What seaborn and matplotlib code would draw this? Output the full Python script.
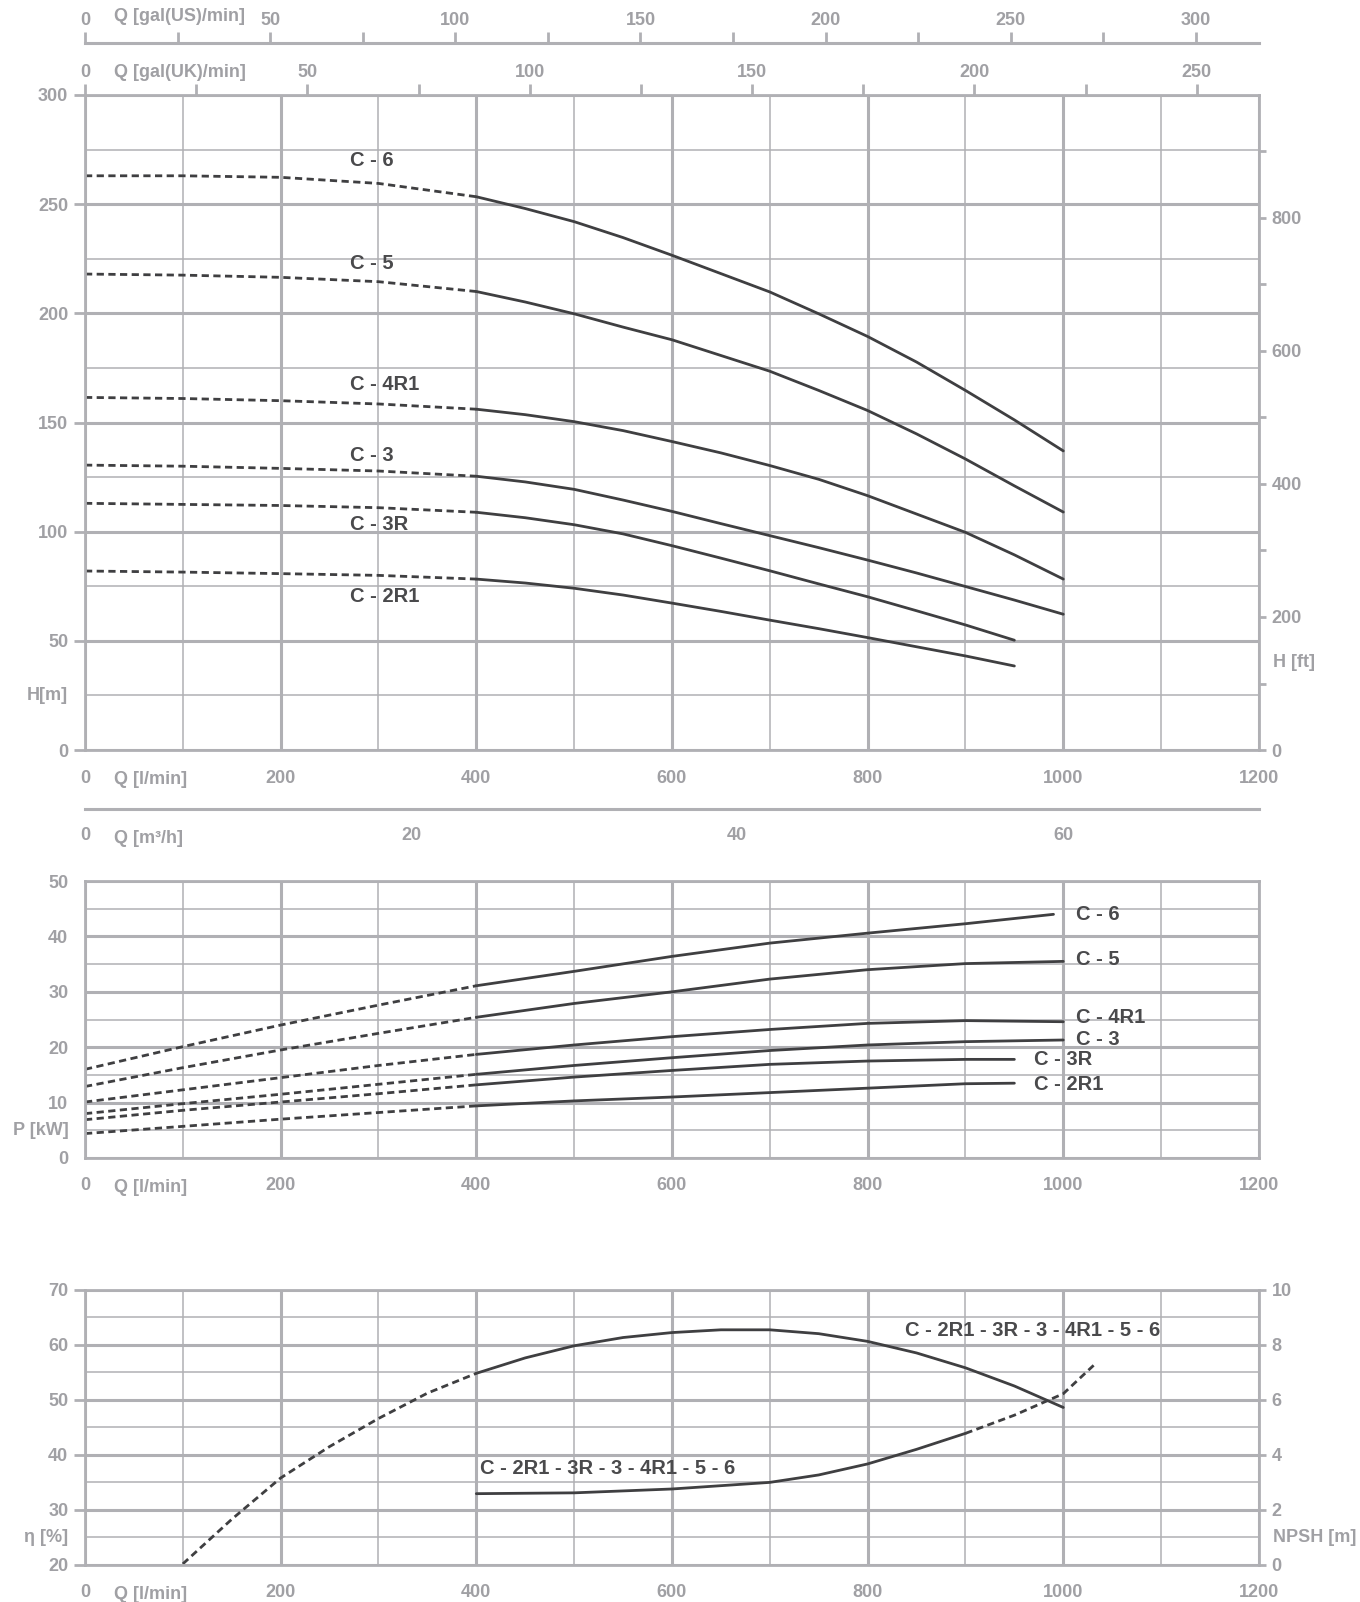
import pandas as pd
import matplotlib.pyplot as plt
import seaborn as sns

# flow points [l/min]
q_h_long = [0, 100, 200, 300, 400, 450, 500, 550, 600, 650, 700, 750, 800, 850, 900, 950, 1000]
q_h_short = [0, 100, 200, 300, 400, 450, 500, 550, 600, 650, 700, 750, 800, 850, 900, 950]
q_p_long = [0, 100, 200, 300, 400, 500, 600, 700, 800, 900, 1000]
q_p_short = [0, 100, 200, 300, 400, 500, 600, 700, 800, 900, 950]
q_p6 = [0, 100, 200, 300, 400, 500, 600, 700, 800, 900, 990]

models = ['C - 6', 'C - 5', 'C - 4R1', 'C - 3', 'C - 3R', 'C - 2R1']

# head [m]
h_c6 = [263, 263, 262.3, 259.5, 253.4, 248, 242, 234.7, 226.6, 218.2, 209.8, 199.8, 189.4, 177.7, 164.7, 151.2, 137]
h_c5 = [218, 217.5, 216.5, 214.5, 210, 205.2, 199.8, 193.7, 187.9, 180.7, 173.5, 164.7, 155.5, 144.8, 133.3, 121, 109]
h_c4r1 = [161.5, 161, 160, 158.5, 156.1, 153.6, 150.4, 146.3, 141.3, 136.1, 130.3, 124, 116.5, 108.1, 99.7, 89.4, 78.3]
h_c3 = [130.5, 130, 129, 127.8, 125.4, 122.8, 119.4, 114.5, 109.3, 103.7, 98.2, 92.7, 87, 81.1, 74.9, 68.7, 62.2]
h_c3r = [113, 112.5, 112, 111, 108.9, 106.4, 103.2, 99, 93.6, 87.9, 82.1, 76.1, 70.2, 63.8, 57.3, 50.3]
h_c2r1 = [82, 81.5, 80.8, 80, 78.3, 76.5, 74.1, 71, 67.3, 63.5, 59.5, 55.6, 51.5, 47.3, 43.1, 38.5]

# power [kW]
p_c6 = [16, 20.1, 24, 27.6, 31.1, 33.7, 36.4, 38.8, 40.6, 42.3, 44]
p_c5 = [12.9, 16.3, 19.5, 22.5, 25.4, 27.9, 30, 32.3, 34, 35.1, 35.5]
p_c4r1 = [10.1, 12.3, 14.5, 16.7, 18.7, 20.4, 21.9, 23.2, 24.3, 24.8, 24.6]
p_c3 = [8, 9.8, 11.5, 13.3, 15.1, 16.7, 18.1, 19.4, 20.4, 21, 21.3]
p_c3r = [6.9, 8.6, 10.1, 11.6, 13.2, 14.6, 15.8, 16.9, 17.5, 17.8, 17.8]
p_c2r1 = [4.4, 5.7, 7, 8.2, 9.4, 10.3, 11, 11.8, 12.6, 13.4, 13.5]

# efficiency [%] and NPSH [m]
q_eta = [100, 150, 200, 250, 300, 350, 400, 450, 500, 550, 600, 650, 700, 750, 800, 850, 900, 950, 1000]
eta = [20.2, 28.3, 35.8, 41.5, 46.6, 51.2, 54.8, 57.6, 59.8, 61.3, 62.2, 62.7, 62.7, 62.0, 60.6, 58.5, 55.8, 52.5, 48.6]
q_npsh = [400, 500, 600, 700, 750, 800, 850, 900, 950, 1000, 1031]
npsh = [2.59, 2.62, 2.76, 3.0, 3.27, 3.67, 4.2, 4.78, 5.44, 6.22, 7.25]

# label positions
h_label_y = [270, 223, 167.5, 135, 103.4, 70.2]
p_label_xy = [(1013, 43.9), (1013, 35.8), (1013, 25.3), (1013, 21.4), (970, 17.7), (970, 13.3)]

GRID = '#b0b0b4'
TXT = '#a0a0a4'
LINE = '#3f3f41'
LAB = '#4a4a4c'
DASH = (0, (2.6, 1.6))
FS = 13

sns.set_style('white')
plt.rcParams['font.family'] = ['Liberation Sans', 'DejaVu Sans']
plt.rcParams['font.weight'] = 'bold'

fig = plt.figure(figsize=(13.6, 16.02), dpi=100)
L, W = 0.0625, 0.8632
axH = fig.add_axes([L, 0.5318, W, 0.4089])
axP = fig.add_axes([L, 0.2772, W, 0.1728])
axE = fig.add_axes([L, 0.0231, W, 0.1719])


def setup_panel(ax, ylo, yhi, ystep):
    ax.set_xlim(0, 1200)
    ax.set_ylim(ylo, yhi)
    ax.set_xticks(range(0, 1201, 200))
    ax.set_xticks(range(100, 1200, 200), minor=True)
    ax.set_yticks(range(ylo, yhi + 1, ystep))
    ax.set_yticks([v + ystep / 2 for v in range(ylo, yhi, ystep)], minor=True)
    ax.grid(which='major', color=GRID, lw=2.2)
    ax.grid(which='minor', color=GRID, lw=1.1)
    ax.set_axisbelow(True)
    ax.tick_params(axis='x', which='both', direction='out', length=10, width=2,
                   color=GRID, labelcolor=TXT, labelsize=FS, pad=4)
    ax.tick_params(axis='y', which='major', direction='out', length=8, width=2,
                   color=GRID, labelcolor=TXT, labelsize=FS, pad=4)
    ax.tick_params(axis='y', which='minor', length=0)
    for s in ax.spines.values():
        s.set_color(GRID)
        s.set_linewidth(2)
    ax.set_xlabel('')
    ax.set_ylabel('')


def side_text(ax, text, y):
    ax.annotate(text, xy=(0, y), xycoords=('axes fraction', 'data'), xytext=(-12, 0),
                textcoords='offset points', ha='right', va='center', color=TXT, fontsize=FS)


def right_text(ax, text, y):
    ax.annotate(text, xy=(1, y), xycoords=('axes fraction', 'data'), xytext=(10, 0),
                textcoords='offset points', ha='left', va='center', color=TXT, fontsize=FS)


def right_axis(ax):
    ax.tick_params(axis='y', which='both', direction='out', length=5, width=2,
                   color=GRID, labelcolor=TXT, labelsize=FS, pad=4)
    ax.grid(False)
    ax.set_ylabel('')
    for s in ax.spines.values():
        s.set_visible(False)


def q_text(ax):
    ax.annotate('Q [l/min]', xy=(30, 0), xycoords=('data', 'axes fraction'), xytext=(0, -21),
                textcoords='offset points', ha='left', va='center', color=TXT, fontsize=FS)


def curve(ax, q, v, split, dashed_before=True):
    df = pd.DataFrame({'q': q, 'v': v})
    a = df[df.q <= split]
    b = df[df.q >= split]
    sns.lineplot(data=a, x='q', y='v', ax=ax, color=LINE, lw=2,
                 linestyle=DASH if dashed_before else '-', sort=False)
    sns.lineplot(data=b, x='q', y='v', ax=ax, color=LINE, lw=2,
                 linestyle='-' if dashed_before else DASH, sort=False)


def curve_label(ax, x, y, text):
    ax.text(x, y, text, color=LAB, fontsize=14.5, fontweight='bold',
            ha='left', va='center')


# ---------------- head panel
h_all = [h_c6, h_c5, h_c4r1, h_c3, h_c3r, h_c2r1]
for i, h in enumerate(h_all):
    q = q_h_long if i < 4 else q_h_short
    curve(axH, q, h, 400)
    curve_label(axH, 271, h_label_y[i], models[i])
setup_panel(axH, 0, 300, 50)
side_text(axH, 'H[m]', 25)
q_text(axH)

axH2 = axH.twinx()
axH2.set_ylim(0, 300 / 0.3048)
axH2.set_yticks(range(0, 801, 200))
axH2.set_yticks(range(100, 901, 200), minor=True)
right_axis(axH2)
right_text(axH2, 'H [ft]', 40 / 0.3048)

# gal(UK) axis on top spine
sec = axH.secondary_xaxis('top', functions=(lambda x: x / 4.54609, lambda g: g * 4.54609))
sec.set_xticks(range(0, 251, 50))
sec.set_xticks(range(25, 251, 50), minor=True)
sec.tick_params(which='both', direction='out', length=8, width=2, color=GRID,
                labelcolor=TXT, labelsize=FS, pad=2)
sec.spines['top'].set_visible(False)
axH.annotate('Q [gal(UK)/min]', xy=(0.0247, 1), xycoords='axes fraction', xytext=(0, 16),
             textcoords='offset points', ha='left', va='center', color=TXT, fontsize=FS)

# gal(US) axis
axUS = fig.add_axes([L, 0.9732, W, 0.0001])
axUS.set_xlim(0, 1200 / 3.78541)
axUS.set_yticks([])
axUS.set_xticks(range(0, 301, 50))
axUS.set_xticks(range(25, 301, 50), minor=True)
axUS.xaxis.set_ticks_position('top')
axUS.tick_params(which='both', direction='out', length=8, width=2, color=GRID,
                 labelcolor=TXT, labelsize=FS, pad=2)
for k in ['left', 'right', 'bottom']:
    axUS.spines[k].set_visible(False)
axUS.spines['top'].set_color(GRID)
axUS.spines['top'].set_linewidth(2.2)
axUS.patch.set_alpha(0)
axUS.annotate('Q [gal(US)/min]', xy=(0.0247, 1), xycoords='axes fraction', xytext=(0, 19),
              textcoords='offset points', ha='left', va='center', color=TXT, fontsize=FS)

# m3/h axis
axM = fig.add_axes([L, 0.4950, W, 0.0001])
axM.set_xlim(0, 72)
axM.set_yticks([])
axM.set_xticks(range(0, 61, 20))
axM.set_xticks(range(10, 71, 20), minor=True)
axM.tick_params(which='both', direction='out', length=10, width=2, color=GRID,
                labelcolor=TXT, labelsize=FS, pad=3)
for k in ['left', 'right', 'top']:
    axM.spines[k].set_visible(False)
axM.spines['bottom'].set_color(GRID)
axM.spines['bottom'].set_linewidth(2.2)
axM.patch.set_alpha(0)
axM.annotate('Q [m³/h]', xy=(0.0247, 0), xycoords='axes fraction', xytext=(0, -21),
             textcoords='offset points', ha='left', va='center', color=TXT, fontsize=FS)

# ---------------- power panel
p_all = [p_c6, p_c5, p_c4r1, p_c3, p_c3r, p_c2r1]
for i, p in enumerate(p_all):
    q = q_p6 if i == 0 else (q_p_long if i < 4 else q_p_short)
    curve(axP, q, p, 400)
    curve_label(axP, p_label_xy[i][0], p_label_xy[i][1], models[i])
setup_panel(axP, 0, 50, 10)
side_text(axP, 'P [kW]', 5)
q_text(axP)

# ---------------- efficiency / NPSH panel
curve(axE, q_eta, eta, 400)
setup_panel(axE, 20, 70, 10)
side_text(axE, 'η [%]', 25)
q_text(axE)
axE2 = axE.twinx()
curve(axE2, q_npsh, npsh, 900, dashed_before=False)
axE2.set_ylim(0, 10)
axE2.set_yticks(range(0, 11, 2))
right_axis(axE2)
right_text(axE2, 'NPSH [m]', 1)
fam = 'C - 2R1 - 3R - 3 - 4R1 - 5 - 6'
curve_label(axE, 838, 62.6, fam)
curve_label(axE, 404, 37.6, fam)

fig.savefig('out.png', dpi=100)
